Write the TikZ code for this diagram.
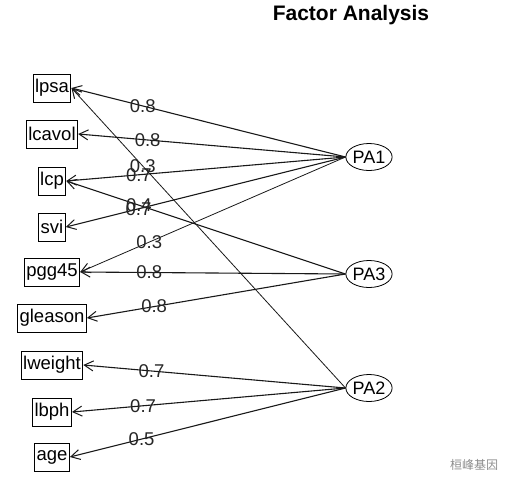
\documentclass[tikz,border=0pt]{standalone}
\usepackage{fontspec}
\setmainfont{Liberation Sans}
\newfontfamily\cjkfont{Noto Sans CJK SC}
\usetikzlibrary{arrows.meta,shapes.geometric}
\begin{document}
\begin{tikzpicture}[x=1pt,y=-1pt,
  var/.style={draw,line width=1pt,minimum height=28pt,inner xsep=2pt,inner ysep=0pt,font=\fontsize{18.5}{20}\selectfont},
  fac/.style={draw,line width=0.8pt,ellipse,minimum width=39pt,minimum height=27pt,inner sep=0pt,font=\fontsize{18}{20}\selectfont},
  load/.style={draw=black!90,line width=1.1pt,-{Straight Barb[length=9pt,width=10pt,line width=1pt]}},
  lbl/.style={pos=0.74,inner sep=0pt,text=black!85,font=\fontsize{18.5}{20}\selectfont}]
\useasboundingbox (0,0) rectangle (506,491);
\node[font=\bfseries\fontsize{21}{24}\selectfont] (title) at (351,15) {Factor Analysis};
\node[var] (lpsa) at (52,88) {lpsa};
\node[var] (lcavol) at (52,134) {lcavol};
\node[var] (lcp) at (52,181) {lcp};
\node[var] (svi) at (52,227) {svi};
\node[var] (pgg45) at (52,272) {pgg45};
\node[var] (gleason) at (52,318) {gleason};
\node[var] (lweight) at (52,365) {lweight};
\node[var] (lbph) at (52,412) {lbph};
\node[var] (age) at (52,457) {age};
\node[fac] (PA1) at (369,157) {PA1};
\node[fac] (PA3) at (369,274) {PA3};
\node[fac] (PA2) at (369,388) {PA2};
\draw[load] (PA1.west) -- node[lbl]{0.8} (lpsa.east);
\draw[load] (PA1.west) -- node[lbl]{0.8} (lcavol.east);
\draw[load] (PA1.west) -- node[lbl]{0.7} (lcp.east);
\draw[load] (PA1.west) -- node[lbl]{0.7} (svi.east);
\draw[load,line width=0.8pt] (PA1.west) -- node[lbl]{0.3} (pgg45.east);
\draw[load] (PA3.west) -- node[lbl]{0.4} (lcp.east);
\draw[load] (PA3.west) -- node[lbl]{0.8} (pgg45.east);
\draw[load] (PA3.west) -- node[lbl]{0.8} (gleason.east);
\draw[load,line width=0.8pt] (PA2.west) -- node[lbl]{0.3} (lpsa.east);
\draw[load] (PA2.west) -- node[lbl]{0.7} (lweight.east);
\draw[load] (PA2.west) -- node[lbl]{0.7} (lbph.east);
\draw[load] (PA2.west) -- node[lbl]{0.5} (age.east);
\node[text=black!45,font=\cjkfont\fontsize{12}{14}\selectfont] (wm) at (474,465) {桓峰基因};
\end{tikzpicture}
\end{document}
